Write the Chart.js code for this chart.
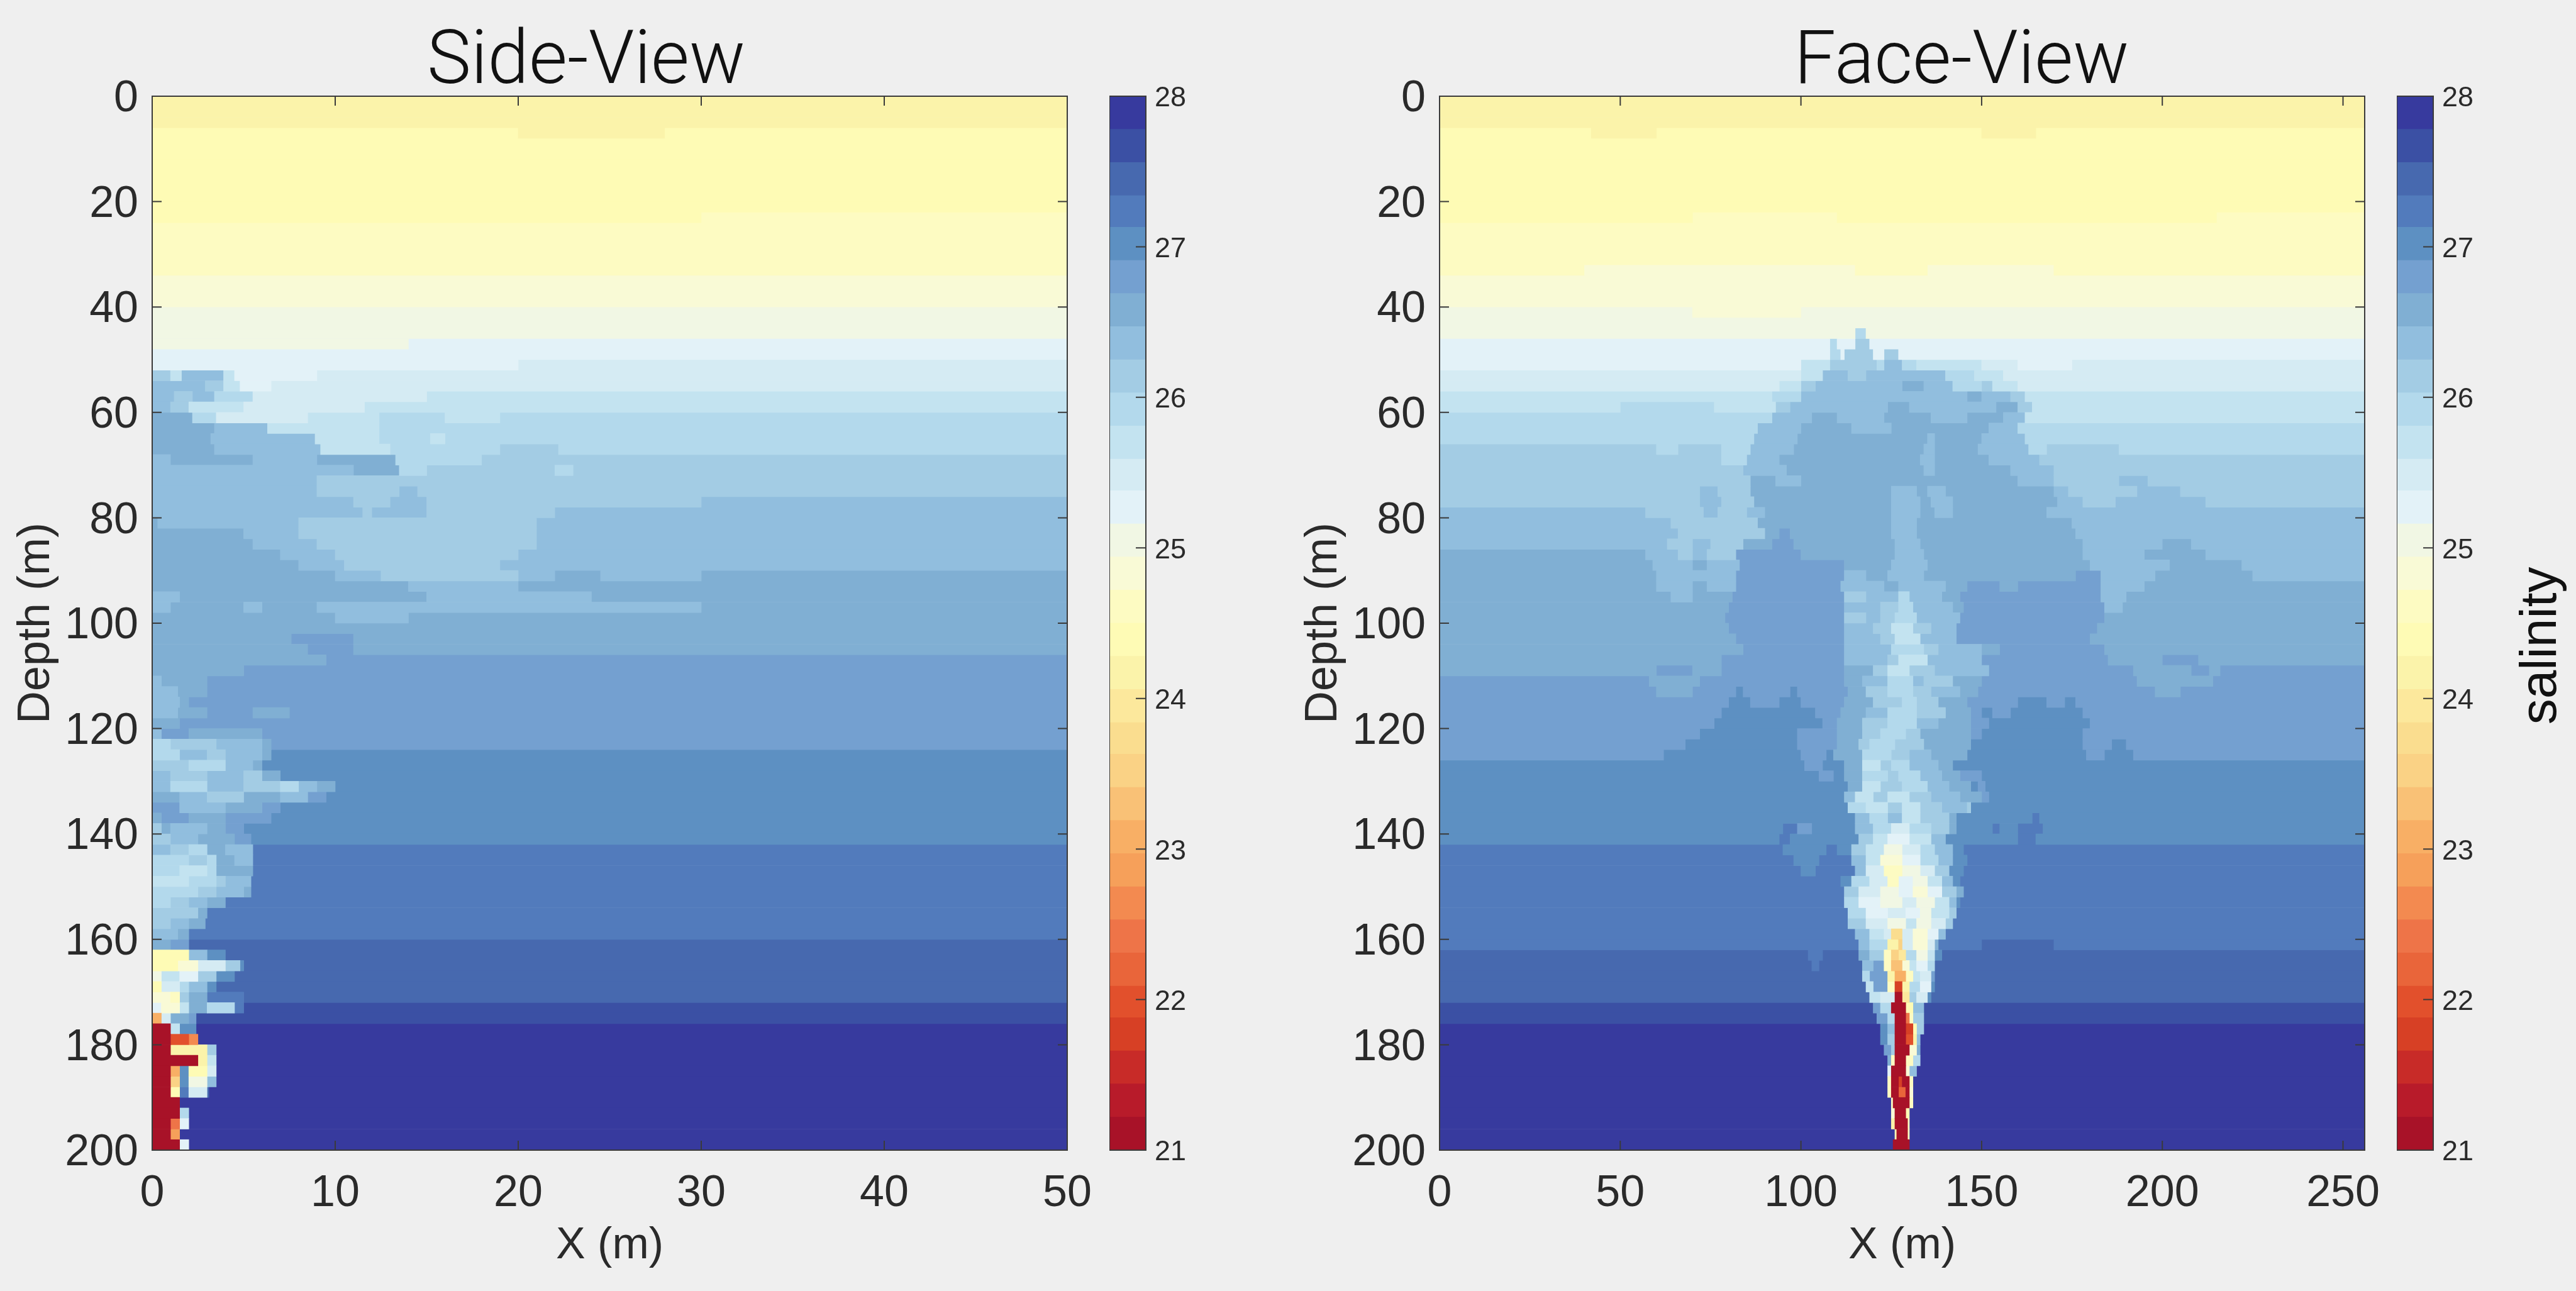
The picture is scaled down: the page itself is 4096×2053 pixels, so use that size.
<!doctype html>
<html lang="en">
<head>
<meta charset="utf-8">
<title>Salinity side and face view</title>
<script src="https://cdn.jsdelivr.net/npm/chart.js"></script>
<style>
  html, body { margin: 0; background: #efefef; overflow: hidden; width: 4096px; height: 2053px; }
  canvas { position: absolute; top: 0; }
</style>
</head>
<body>
<canvas id="side" style="left:0"></canvas>
<canvas id="sideBar" style="left:1764px"></canvas>
<canvas id="face" style="left:2047px"></canvas>
<canvas id="faceBar" style="left:3811px"></canvas>
<script>
// colour cells of the salinity scale, low to high
var levelColors = ['#A81228','#B81B2A','#C82B28','#D74025','#E2502C','#E9653A','#EE7448','#F38A50','#F6A05A','#F8AF65','#F9C176','#FAD285','#FADD8F','#FCE89C','#FBF3AA','#FEFBB5','#FDFBC2','#F9FAD6','#F1F7E4','#E3F2F8','#D5EBF3','#C3E3F0','#B3D9EC','#A3CCE4','#91BEDE','#80AFD3','#74A0D0','#5D90C2','#527BBC','#4769AF','#3B50A4','#373A9E'];
var levelEdges = [21,21.22,21.44,21.66,21.88,22.09,22.31,22.53,22.75,22.97,23.19,23.41,23.63,23.84,24.06,24.28,24.5,24.72,24.94,25.16,25.38,25.59,25.81,26.03,26.25,26.47,26.69,26.91,27.13,27.34,27.56,27.78,28];
var depthTicks = [0,20,40,60,80,100,120,140,160,180,200];
var sideXTicks = [0,10,20,30,40,50];
var faceXTicks = [0,50,100,150,200,250];
var salinityTicks = [21,22,23,24,25,26,27,28];

// each row: depth at top of the 2 m row, then level, x where it stops, level, x, ... last level runs to the edge
var sideRows = [
[0,14],[2,14],[4,14],[6,15,20,14,28,15],[8,15],[10,15],[12,15],[14,15],[16,15],[18,15],[20,15],[22,15,30,16],[24,16],[26,16],[28,16],[30,16],[32,16],[34,17],[36,17],[38,17],
[40,18],[42,18],[44,18],[46,18,14,19],[48,19],[50,19,20,20],
[52,23,1,21,1.6,24,3.9,21,4.5,19,9,20],
[54,24,2.9,23,3.9,21,4.8,19,6.5,20],
[56,24,1.2,23,2.2,24,3.4,22,5.5,20,15,21],
[58,24,1,23,2,21,5,20,11.6,21],
[60,25,2.2,22,3.5,20,8.5,21,12.4,22,16,21,19,22],
[62,25,3.4,24,6.3,21,12.4,22],
[64,25,3.2,24,8.9,21,12.4,22,15.2,21,16,22],
[66,25,3.4,24,9.2,21,13,22,19,23,22.2,22],
[68,24,1,25,5.5,24,9,25,13.3,22,18,23],
[70,24,11,25,13.5,22,15,23,22,22,23,23],
[72,24,9,23],
[74,24,9,23,13.5,24,14.5,23],
[76,24,11,23,13,24,15,23,30,24],
[78,24,11.5,23,12,24,15,23,22,24],
[80,25,0.3,24,8,23,21,24],
[82,25,5,24,8,23,21,24],
[84,25,5.5,24,9,23,21,24],
[86,25,7,24,10,23,20,24],
[88,25,8,24,10.5,23,19,24],
[90,25,10,24,12.5,23,20,24,22,25,24.5,24,30,25],
[92,25,14,24,20,25],
[94,24,1.5,25,15,24,24,25],
[96,24,1,25,5,24,6,25,9,24,30,25],
[98,25,10,24,14,25],
[100,25],
[102,25,7.6,26,11,25],
[104,25,8.5,26,11,25],
[106,25,9.5,26],
[108,25,5,26],
[110,24,0.5,25,3,26],
[112,24,1.4,25,3,26],
[114,24,1.5,25,2,26],
[116,24,1.4,25,3,26,5.5,25,7.5,26],
[118,25,1.5,26],
[120,24,0.5,26,2,25,6,26],
[122,22,1,23,3.5,24,6,25,6.5,26],
[124,22,1.5,24,3,23,4,24,6,25,6.5,27],
[126,23,2,22,4,24,5.5,25,6,27],
[128,24,1,23,3,24,5,23,6,25,7,27],
[130,24,1,22,3,24,5,23,7,22,8,24,9,25,10,27],
[132,25,1.5,24,3,23,5,25,7,24,8.5,26,9.5,27],
[134,26,1.5,24,4,25,6,26,7,27],
[136,25,0.5,26,2,25,4,26,6.5,27],
[138,23,0.5,25,1,24,3,25,4,26,5,27],
[140,23,1,24,2.5,25,4.5,26,5.4,27],
[142,24,1,23,2,22,3,25,4,24,5.5,28],
[144,22,2,23,3,22,3.5,25,4.5,24,5.5,28],
[146,22,1.5,21,3,22,3.5,25,5.5,28],
[148,21,2,22,3.5,23,4,24,5.4,28],
[150,22,2.5,23,3.5,24,5,25,5.4,28],
[152,22,1,23,2,24,3,25,4,28],
[154,23,2.5,25,3,28],
[156,23,1,24,2,25,2.9,28],
[158,24,1.4,25,2,28],
[160,25,1,26,2,29],
[162,15,2,24,3,27,4,29],
[164,15,1.4,17,2.5,20,4,23,4.8,27,5,29],
[166,18,0.5,21,1.5,19,2.5,23,3.5,27,4.5,29],
[168,15,0.5,20,1.5,22,2,24,3,27,3.5,29],
[170,17,1,16,1.5,23,2,25,3,28,5,29],
[172,19,0.5,17,1.5,21,2,25,3,22,4.5,28,5,30],
[174,9,0.5,20,1,25,2,26,2.4,30],
[176,0,1,21,1.5,27,2.4,31],
[178,0,1,4,2,7,2.5,31],
[180,0,1,14,3,23,3.5,31],
[182,0,2.5,14,3,21,3.5,31],
[184,0,1,9,1.5,27,2,15,3,20,3.5,31],
[186,0,1,11,1.5,27,2,18,3,24,3.5,31],
[188,0,1,15,1.5,28,2,20,3,29,3.1,31],
[190,0,1.5,31],
[192,0,1.5,22,2,31],
[194,0,1,6,1.5,19,2,31],
[196,0,1,8,1.5,31],
[198,0,1.5,19,2,31]
];

var faceRows = [
[0,14],[2,14],[4,14],[6,15,42,14,60,15,150,14,165,15],[8,15],[10,15],[12,15],[14,15],[16,15],[18,15],[20,15],[22,15,70,16,110,15,215,16],[24,16],[26,16],[28,16],[30,16],[32,16,40,17,115,16,135,17,170,16],[34,17],[36,17],[38,17],
[40,18,70,17,100,18],[42,18],
[44,18,115,22,118,18],
[46,19,108,22,110,19,115,23,119,19],
[48,19,108,22,111,19,112,23,120,19,123,23,127,19],
[50,19,100,21,108,23,121,22,123,24,128,22,132,21,150,20,160,19,175,20],
[52,20,100,21,106,24,113,23,118,24,140,22,148,21,156,20],
[54,20,94,21,100,23,104,24,128,25,134,24,142,22,150,23,153,21,160,20],
[56,21,92,22,100,24,146,25,150,24,158,23,162,21],
[58,21,50,22,76,21,93,23,97,24,124,25,130,24,154,25,160,23,164,21],
[60,22,92,24,103,25,110,24,123,25,136,24,146,25,156,24,162,21],
[62,22,88,24,100,25,114,24,125,25,152,24,160,22],
[64,22,87,24,99,25,135,24,137,25,150,24,162,22],
[66,23,60,22,66,23,78,22,86,24,98,25,134,24,137,25,149,24,163,22,168,23,188,22],
[68,23,78,22,85,24,94,25,133,24,137,25,152,24,166,23],
[70,23,84,24,96,25,134,24,137,25,158,24,170,23],
[72,23,86,25,93,24,100,25,160,24,170,23,188,24,196,23],
[74,23,72,24,77,23,86,25,125,24,132,25,135,24,140,25,170,24,174,23,193,24,205,23],
[76,23,72,24,78,23,87,25,125,24,133,25,136,24,142,25,171,24,178,23,187,24,212,23],
[78,24,57,23,73,24,77,23,85,24,90,25,125,24,133,25,137,24,142,25,168,24],
[80,24,64,23,88,25,125,24,132,25,175,24],
[82,24,66,23,90,25,94,26,97,25,125,24,132,25,176,24],
[84,24,63,23,70,24,75,23,84,25,92,26,98,25,126,24,133,25,178,24,200,25,208,24],
[86,25,57,24,66,23,70,24,74,23,82,26,100,25,126,24,134,25,178,24,195,25,212,24],
[88,25,59,24,70,25,74,24,83,26,112,25,125,24,135,25,180,24,202,25,222,24],
[90,25,60,24,82,26,112,24,118,25,124,24,134,25,176,26,183,24,198,25,225,24],
[92,25,60,24,70,25,74,24,82,26,111,24,123,25,127,24,140,25,146,26,155,25,160,26,183,24,195,25],
[94,25,64,24,70,25,81,26,112,23,118,24,127,22,130,24,139,25,144,26,183,24,190,25],
[96,25,80,26,112,24,122,23,127,22,131,24,142,25,145,26,184,24,189,25],
[98,25,79,26,112,23,118,24,122,23,126,22,132,24,144,26,184,25],
[100,25,80,26,112,24,120,23,125,21,131,23,136,24,143,26,182,25],
[102,25,82,26,112,24,122,23,126,21,133,24,143,26,180,25],
[104,25,84,26,112,24,125,22,134,23,138,24,150,25,155,26,184,25],
[106,25,78,26,112,24,124,23,127,21,135,24,150,26,185,25,200,26,210,25],
[108,25,60,26,70,25,78,26,112,25,120,23,124,21,130,23,137,24,152,26,192,25,208,26,213,25,216,26],
[110,26,58,25,72,26,112,25,117,24,124,22,131,24,134,23,142,25,150,26,193,25,214,26],
[112,26,60,25,70,26,82,27,84,26,97,27,99,26,113,25,118,23,124,22,131,23,136,24,144,25,149,26,198,25,205,26],
[114,26,80,27,86,26,94,27,100,26,112,25,120,23,128,22,132,23,138,25,146,26,160,27,168,26,173,27,176,26],
[116,26,78,27,104,26,111,25,118,24,124,22,132,23,140,25,147,26,150,27,153,26,158,27,178,26],
[118,26,76,27,106,26,110,25,117,23,124,22,132,24,138,25,147,26,152,27,180,26],
[120,26,72,27,99,26,110,25,117,23,122,22,129,23,133,25,147,26,150,27,178,26],
[122,26,68,27,99,26,110,25,116,23,119,22,126,23,134,25,147,27,178,26,186,27,190,26],
[124,26,62,27,100,26,107,27,109,25,117,22,125,23,130,24,136,25,146,27,179,26,184,27,192,26],
[126,27,101,26,106,27,112,25,117,21,122,23,125,22,130,24,138,25,142,27],
[128,27,105,26,109,27,112,25,117,22,124,23,127,22,133,24,139,25,144,26,150,27],
[130,27,113,25,117,21,122,23,128,22,135,24,141,25,147,27,149,26,151,27],
[132,27,112,24,115,21,120,23,124,21,130,23,136,24,144,25,150,26,152,27],
[134,27,113,22,118,21,124,23,128,21,133,23,139,24,146,23,147,27],
[136,27,115,24,119,22,124,24,128,21,133,23,141,25,143,27,164,28,166,27],
[138,27,95,28,99,26,103,27,115,24,120,22,125,20,130,22,136,23,141,25,143,27,153,28,155,27,160,28,167,27],
[140,27,94,28,97,27,116,23,120,21,124,19,130,21,136,24,140,27,160,28,165,27],
[142,28,95,27,107,28,110,27,114,23,118,21,123,18,128,20,133,22,137,24,142,27,145,28],
[144,28,98,27,105,28,114,24,118,21,122,17,128,19,133,22,138,24,142,27,146,28],
[146,28,100,27,104,28,115,24,118,20,123,16,128,18,133,20,137,23,141,27,145,28],
[148,28,111,27,114,22,119,20,124,16,127,19,131,18,135,21,139,24,142,27,144,28],
[150,28,112,23,116,20,122,18,127,19,131,17,135,19,139,23,143,25,145,28],
[152,28,112,22,116,19,122,18,128,20,132,18,137,21,141,24,143,27,144,28],
[154,28,113,22,118,19,124,20,129,19,133,18,136,21,141,23,143,28],
[156,28,113,23,118,20,124,18,129,21,132,18,136,20,140,23,142,28],
[158,28,115,24,119,21,123,20,125,12,128,20,131,17,135,19,138,24,140,28],
[160,28,116,24,119,22,124,14,127,11,128,20,131,17,135,20,137,25,138,28,150,29,170,28],
[162,29,102,28,106,29,116,25,119,23,123,16,125,11,127,13,129,22,132,18,135,21,137,27,139,29],
[164,29,103,28,105,29,117,24,120,26,123,16,125,10,128,17,130,21,132,19,135,22,137,29],
[166,29,117,22,119,26,124,14,126,9,129,16,131,21,133,20,136,26,137,29],
[168,29,118,21,120,26,124,16,126,3,128,14,130,22,133,19,136,27,137,29],
[170,29,119,21,122,20,126,0,128,13,130,23,132,20,135,27,136,29],
[172,30,120,26,122,22,125,0,129,15,131,24,134,30],
[174,30,121,26,124,22,126,0,129,6,130,16,131,23,134,30],
[176,31,122,27,124,24,126,0,129,3,131,15,132,23,134,31],
[178,31,122,27,124,23,126,0,129,4,131,14,132,24,133,31],
[180,31,123,26,125,23,126,0,130,17,132,25,133,31],
[182,31,124,25,125,16,126,0,129,16,131,22,133,31],
[184,31,124,19,125,0,129,17,130,24,132,31],
[186,31,124,16,125,0,127,3,128,0,130,16,131,31],
[188,31,124,16,125,0,127,5,129,0,130,17,131,31],
[190,31,125,16,125.5,0,130,16,131,31],
[192,31,125,17,126,0,129,15,130,31],
[194,31,125,14,126,0,129.5,16,130,31],
[196,31,126,15,126.5,0,129.5,16,130,31],
[198,31,125.5,0,130,31]
];

var ink = '#2a2a2a';
var fontName = '"Liberation Sans", sans-serif';
var titleFont = 'Roboto, "Liberation Sans", sans-serif';

// one dataset per colour cell, bars run along x on a 2 m depth row
function rowsToDatasets(rows, xMax) {
  var sets = levelColors.map(function (c) {
    return { data: [], backgroundColor: c, grouped: false, barPercentage: 1, categoryPercentage: 1, borderWidth: 0 };
  });
  rows.forEach(function (row) {
    var from = 0;
    for (var i = 1; i < row.length; i += 2) {
      var to = i + 1 < row.length ? row[i + 1] : xMax;
      sets[row[i]].data.push({ x: [from, to], y: row[0] + 1 });
      from = to;
    }
  });
  return sets;
}

function useTicks(list) {
  return function (scale) { scale.ticks = list.map(function (v) { return { value: v }; }); };
}

// box around the axes and the short ticks pointing inward (Chart.js only draws them outward)
var frameTicks = {
  id: 'frameTicks',
  beforeDraw: function (chart, args, opts) {
    // MATLAB sits its y labels a touch lower than canvas "middle" does
    chart.scales.y.getLabelItems().forEach(function (item) {
      if (!item.nudged) { item.options.translation[1] += opts.labelDrop; item.nudged = true; }
    });
  },
  afterDatasetsDraw: function (chart, args, opts) {
    var a = chart.chartArea, ctx = chart.ctx, len = opts.len;
    ctx.save();
    ctx.strokeStyle = '#3a3a3a';
    ctx.lineWidth = 2;
    ctx.strokeRect(a.left, a.top, a.right - a.left, a.bottom - a.top);
    ctx.beginPath();
    chart.scales.y.ticks.forEach(function (t) {
      var p = chart.scales.y.getPixelForValue(t.value);
      if (!opts.barOnly) { ctx.moveTo(a.left, p); ctx.lineTo(a.left + len, p); }
      ctx.moveTo(a.right, p); ctx.lineTo(a.right - len, p);
    });
    if (!opts.barOnly) {
      chart.scales.x.ticks.forEach(function (t) {
        var p = chart.scales.x.getPixelForValue(t.value);
        ctx.moveTo(p, a.top); ctx.lineTo(p, a.top + len);
        ctx.moveTo(p, a.bottom); ctx.lineTo(p, a.bottom - len);
      });
    }
    ctx.stroke();
    ctx.restore();
  }
};

function makePanel(id, width, rightPad, yWidth, xMax, xTicks, rows, title) {
  var el = document.getElementById(id);
  el.style.width = width + 'px';
  el.style.height = '2053px';
  el.width = width;
  el.height = 2053;
  return new Chart(el, {
    type: 'bar',
    data: { datasets: rowsToDatasets(rows, xMax) },
    plugins: [frameTicks],
    options: {
      indexAxis: 'y',
      responsive: false,
      animation: false,
      events: [],
      plugins: {
        legend: { display: false },
        tooltip: { enabled: false },
        title: {
          display: true, text: title, color: '#111',
          font: { family: titleFont, size: 118, weight: '300', lineHeight: 102 / 118 },
          padding: { top: 51, bottom: 0 }
        },
        frameTicks: { len: 15, labelDrop: 5 }
      },
      scales: {
        x: {
          type: 'linear', min: 0, max: xMax,
          grid: { display: false }, border: { display: false },
          afterBuildTicks: useTicks(xTicks),
          afterFit: function (s) { s.height = 224; },
          ticks: { color: ink, font: { family: fontName, size: 70 }, padding: 20, maxRotation: 0, autoSkip: false },
          title: { display: true, text: 'X (m)', color: ink, font: { family: fontName, size: 70 }, padding: { top: 0, bottom: 29 } }
        },
        y: {
          type: 'linear', min: 0, max: 200, reverse: true, offset: false,
          grid: { display: false, offset: false }, border: { display: false },
          afterBuildTicks: useTicks(depthTicks),
          afterFit: function (s) { s.width = yWidth; },
          ticks: { color: ink, font: { family: fontName, size: 70 }, padding: 14, autoSkip: false },
          title: { display: true, text: 'Depth (m)', color: ink, font: { family: fontName, size: 72 }, padding: { top: 15, bottom: 0 } }
        },
        // empty axis that only holds the space right of the plot, so the title centres on the whole canvas
        rightGap: {
          type: 'linear', position: 'right', axis: 'y',
          grid: { display: false }, border: { display: false },
          ticks: { display: false },
          afterFit: function (s) { s.width = rightPad; }
        }
      }
    }
  });
}

function makeColorbar(id, withName) {
  var el = document.getElementById(id);
  var width = 285;
  el.style.width = width + 'px';
  el.style.height = '2053px';
  el.width = width;
  el.height = 2053;
  var plugins = [frameTicks];
  if (withName) {
    // Chart.js turns a right-hand axis title the other way, so this one is set by hand
    plugins.push({
      id: 'barName',
      afterDraw: function (chart) {
        var ctx = chart.ctx;
        ctx.save();
        ctx.translate(230, chart.scales.y.getPixelForValue(24.35));
        ctx.rotate(-Math.PI / 2);
        ctx.textAlign = 'center';
        ctx.textBaseline = 'middle';
        ctx.fillStyle = '#111';
        ctx.font = '82px ' + fontName;
        ctx.fillText('salinity', 0, 0);
        ctx.restore();
      }
    });
  }
  return new Chart(el, {
    type: 'bar',
    data: {
      labels: ['salinity'],
      datasets: levelColors.map(function (c, i) {
        return { data: [[levelEdges[i], levelEdges[i + 1]]], backgroundColor: c, grouped: false, barPercentage: 1, categoryPercentage: 1, borderWidth: 0 };
      })
    },
    plugins: plugins,
    options: {
      responsive: false,
      animation: false,
      events: [],
      layout: { padding: { top: 153, bottom: 224 } },
      plugins: { legend: { display: false }, tooltip: { enabled: false }, frameTicks: { len: 16, barOnly: true, labelDrop: 4 } },
      scales: {
        x: { display: false },
        y: {
          position: 'right', min: 21, max: 28,
          grid: { display: false }, border: { display: false },
          afterBuildTicks: useTicks(salinityTicks),
          afterFit: function (s) { s.width = 227; },
          ticks: { color: ink, font: { family: fontName, size: 45 }, padding: 6, autoSkip: false }
        }
      }
    }
  });
}

makePanel('side', 1864, 167, 242, 50, sideXTicks, sideRows, 'Side-View');
makePanel('face', 2144, 431, 242, 256, faceXTicks, faceRows, 'Face-View');
makeColorbar('sideBar', false);
makeColorbar('faceBar', true);
</script>
</body>
</html>
